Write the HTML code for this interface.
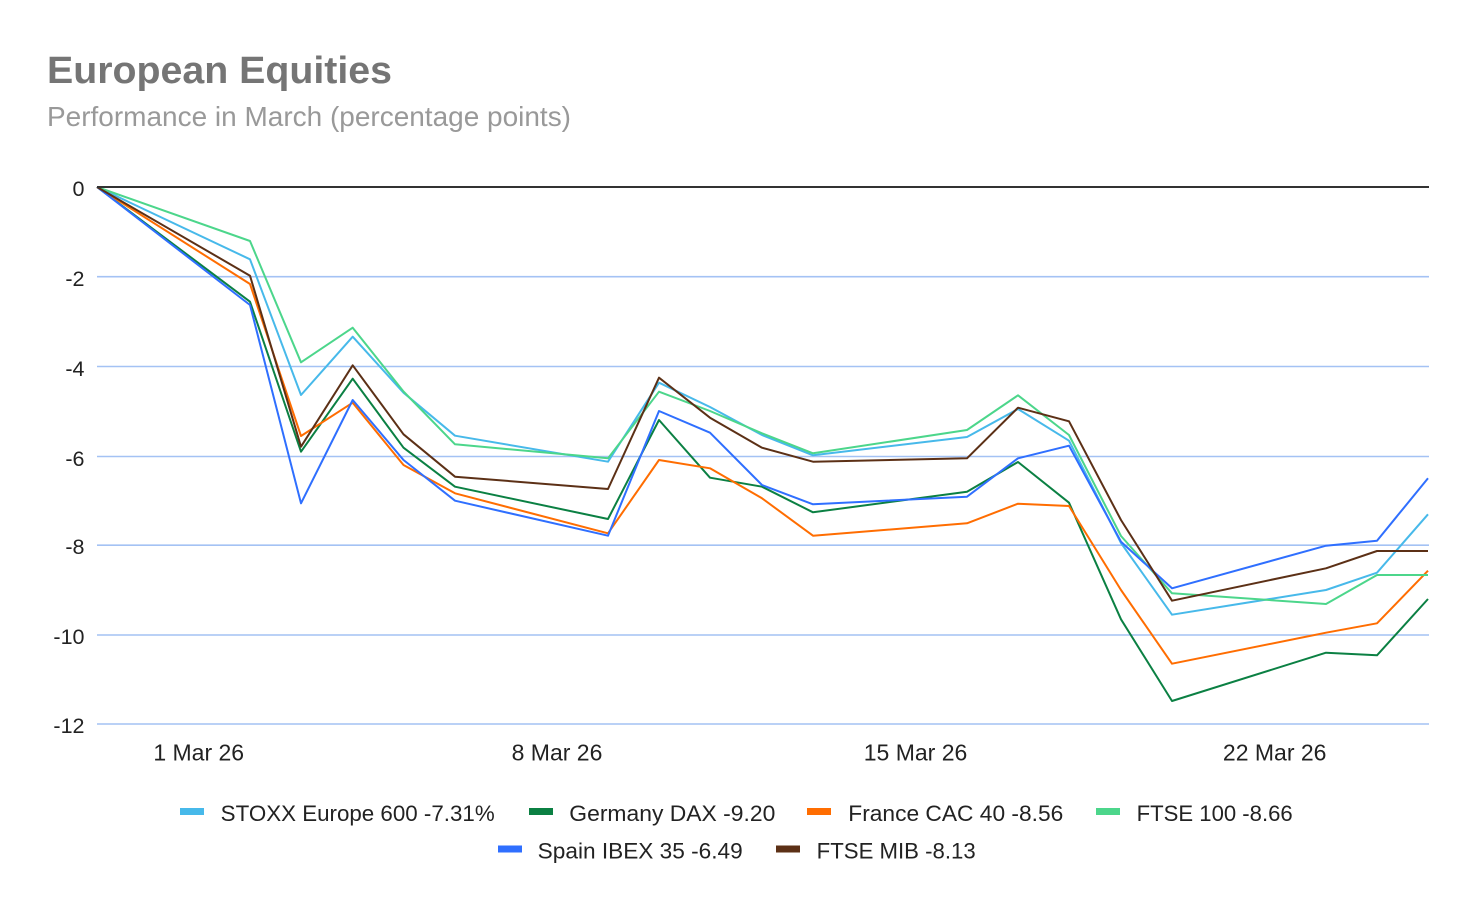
<!DOCTYPE html>
<html>
<head>
<meta charset="utf-8">
<style>
  html,body{margin:0;padding:0;background:#fff;}
  svg{display:block;}
  text{font-family:"Liberation Sans", Arial, sans-serif;}
</style>
</head>
<body>
<svg width="1474" height="910" viewBox="0 0 1474 910" xmlns="http://www.w3.org/2000/svg">
  <rect width="1474" height="910" fill="#ffffff"/>

  <!-- Title -->
  <text x="47" y="83" font-size="38" font-weight="bold" fill="#757575" textLength="345" lengthAdjust="spacingAndGlyphs">European Equities</text>
  <text x="47" y="126" font-size="28" fill="#999999" textLength="524" lengthAdjust="spacingAndGlyphs">Performance in March (percentage points)</text>

  <!-- Gridlines -->
  <g stroke="#a4c2f4" stroke-width="1.6">
    <line x1="97" y1="276.7" x2="1429" y2="276.7"/>
    <line x1="97" y1="366.5" x2="1429" y2="366.5"/>
    <line x1="97" y1="456.5" x2="1429" y2="456.5"/>
    <line x1="97" y1="545.2" x2="1429" y2="545.2"/>
    <line x1="97" y1="635" x2="1429" y2="635"/>
    <line x1="97" y1="724" x2="1429" y2="724"/>
  </g>

  <!-- Y labels -->
  <g font-size="21.5" fill="#222222" text-anchor="end">
    <text x="84.5" y="196">0</text>
    <text x="84.5" y="286">-2</text>
    <text x="84.5" y="376">-4</text>
    <text x="84.5" y="466">-6</text>
    <text x="84.5" y="554">-8</text>
    <text x="84.5" y="644">-10</text>
    <text x="84.5" y="733">-12</text>
  </g>

  <!-- X labels -->
  <g font-size="23" fill="#222222" text-anchor="middle">
    <text x="198.7" y="760.5">1 Mar 26</text>
    <text x="557" y="760.5">8 Mar 26</text>
    <text x="915.5" y="760.5">15 Mar 26</text>
    <text x="1274.7" y="760.5">22 Mar 26</text>
  </g>

  <!-- Series -->
  <g fill="none" stroke-width="2" stroke-linejoin="round">
    <!-- STOXX -->
    <polyline stroke="#47b9ea" points="97,187 250,259.3 301,395 352.7,336.7 403.5,392.7 455,435.7 608,461.7 659,382.7 710,407 762,435 813,455.3 967,437 1018,409 1069,440.7 1121,543 1172,614.7 1326,590 1377,572.7 1428,514.3"/>
    <!-- DAX -->
    <polyline stroke="#0b8043" points="97,187 250,301.7 301,451.7 352.7,378.7 403.5,447.7 455,486.7 608,519 659,420 710,477.7 762,486.7 813,512.3 967,491.7 1018,462 1069,502.7 1121,619.3 1172,701 1326,652.7 1377,655.3 1428,599"/>
    <!-- CAC -->
    <polyline stroke="#ff6d01" points="97,187 250,284 301,436 352.7,402.7 403.5,465 455,493.3 608,533.3 659,460 710,468.3 762,498.3 813,535.7 967,523.3 1018,503.7 1069,506 1121,590 1172,663.7 1326,632.7 1377,623.3 1428,570.7"/>
    <!-- FTSE 100 -->
    <polyline stroke="#4cd68b" points="97,187 250,241 301,362.3 352.7,327.7 403.5,391.5 455,444.3 608,458.3 659,391.7 710,411 762,433.3 813,453.3 967,430 1018,395.3 1069,435 1121,536 1172,593.3 1326,604 1377,575 1428,575"/>
    <!-- IBEX -->
    <polyline stroke="#2f6fff" points="97,187 250,305 301,503.3 352.7,400 403.5,460 455,500.7 608,535.7 659,411 710,432.7 762,485 813,504.3 967,496.7 1018,458.3 1069,445.7 1121,541.7 1172,588.3 1326,545.7 1377,540.7 1428,478.3"/>
    <!-- MIB -->
    <polyline stroke="#5c3016" points="97,187 250,275.7 301,446.7 352.7,365.3 403.5,434.3 455,476.7 608,489 659,377.7 710,417.7 762,447.7 813,461.7 967,458.3 1018,407.7 1069,421.3 1121,520 1172,600.7 1326,568.3 1377,551 1428,551"/>
  </g>

  <!-- Zero line -->
  <line x1="97" y1="187" x2="1429" y2="187" stroke="#333333" stroke-width="2"/>

  <!-- Legend -->
  <g>
    <rect x="180" y="808" width="24" height="7" fill="#47b9ea"/>
    <rect x="529" y="808" width="24" height="7" fill="#0b8043"/>
    <rect x="807" y="808" width="24" height="7" fill="#ff6d01"/>
    <rect x="1096" y="808" width="24" height="7" fill="#4cd68b"/>
    <rect x="498" y="845.5" width="24" height="7" fill="#2f6fff"/>
    <rect x="776" y="845.5" width="24" height="7" fill="#5c3016"/>
  </g>
  <g font-size="22" fill="#222222">
    <text x="220.7" y="821" textLength="274" lengthAdjust="spacingAndGlyphs">STOXX Europe 600 -7.31%</text>
    <text x="569.3" y="821" textLength="206" lengthAdjust="spacingAndGlyphs">Germany DAX -9.20</text>
    <text x="848.3" y="821" textLength="215" lengthAdjust="spacingAndGlyphs">France CAC 40 -8.56</text>
    <text x="1136.7" y="821" textLength="156" lengthAdjust="spacingAndGlyphs">FTSE 100 -8.66</text>
    <text x="537.7" y="858.5" textLength="205" lengthAdjust="spacingAndGlyphs">Spain IBEX 35 -6.49</text>
    <text x="816.7" y="858.5" textLength="159" lengthAdjust="spacingAndGlyphs">FTSE MIB -8.13</text>
  </g>
</svg>
</body>
</html>
